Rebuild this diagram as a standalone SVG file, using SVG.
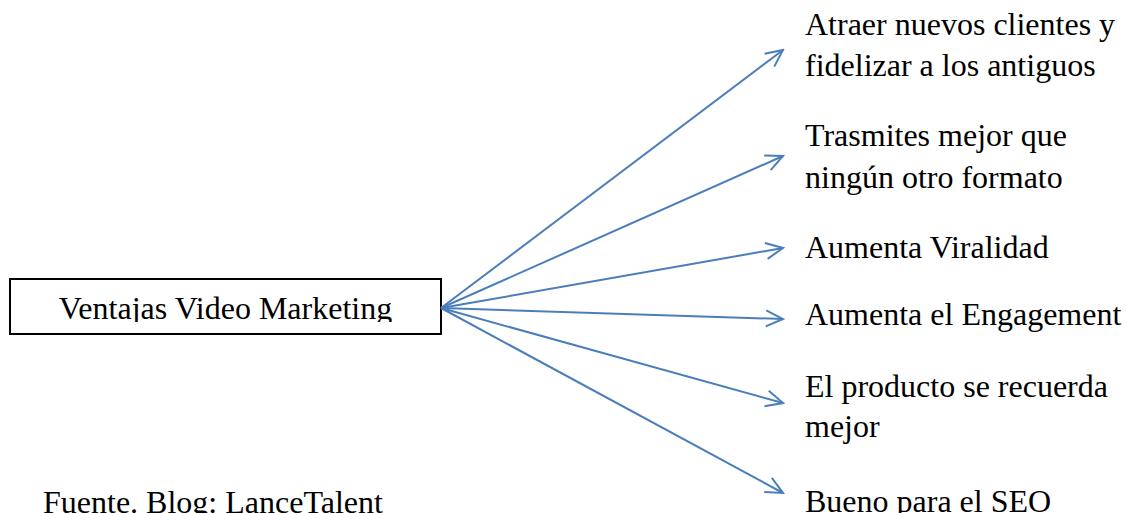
<svg xmlns="http://www.w3.org/2000/svg" width="1126" height="513" viewBox="0 0 1126 513">
<style>
text{font-family:"Liberation Serif","Times New Roman",serif;font-size:32px;fill:#000}
.c{stroke:#4a7ebb;stroke-width:2;fill:none}
</style>
<defs>
<marker id="ah" viewBox="0 0 20 20" refX="18" refY="10" markerWidth="20" markerHeight="20" markerUnits="userSpaceOnUse" orient="auto">
<path d="M1,2 L18,10 L1,18" fill="none" stroke="#4a7ebb" stroke-width="2"/>
</marker>
<clipPath id="bc"><rect x="10" y="279" width="431" height="43"/></clipPath>
</defs>
<rect width="1126" height="513" fill="#fff"/>
<g id="root">
<rect x="10" y="279" width="431" height="55" fill="#fff" stroke="#000" stroke-width="2"/>
<text x="225.5" y="319" text-anchor="middle" clip-path="url(#bc)">Ventajas Video Marketing</text>
</g>
<g id="connectors">
<line class="c" x1="441" y1="308" x2="783" y2="50" marker-end="url(#ah)"/>
<line class="c" x1="441" y1="308" x2="783" y2="156" marker-end="url(#ah)"/>
<line class="c" x1="441" y1="308" x2="783" y2="248" marker-end="url(#ah)"/>
<line class="c" x1="441" y1="308" x2="783" y2="319" marker-end="url(#ah)"/>
<line class="c" x1="441" y1="308" x2="783" y2="403" marker-end="url(#ah)"/>
<line class="c" x1="441" y1="308" x2="783" y2="493" marker-end="url(#ah)"/>
</g>
<g id="n1"><text x="805" y="35">Atraer nuevos clientes y</text><text x="805" y="76">fidelizar a los antiguos</text></g>
<g id="n2"><text x="805" y="146">Trasmites mejor que</text><text x="805" y="188">ningún otro formato</text></g>
<g id="n3"><text x="805" y="258">Aumenta Viralidad</text></g>
<g id="n4"><text x="805" y="325">Aumenta el Engagement</text></g>
<g id="n5"><text x="805" y="397">El producto se recuerda</text><text x="805" y="437">mejor</text></g>
<g id="n6"><text x="805" y="512">Bueno para el SEO</text></g>
<g id="source"><text x="43" y="513">Fuente. Blog: LanceTalent</text></g>
</svg>
